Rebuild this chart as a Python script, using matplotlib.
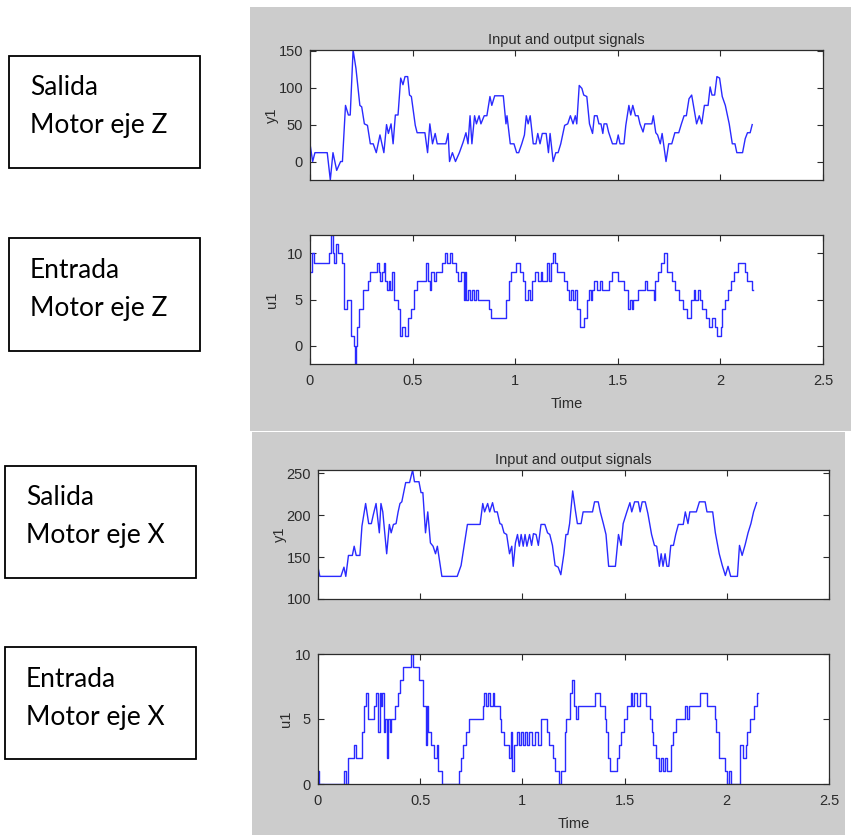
import matplotlib
matplotlib.use("Agg")
import matplotlib.pyplot as plt
from matplotlib.patches import Rectangle

# ---------------- data ----------------
time_ticks = [0, 0.5, 1, 1.5, 2, 2.5]
time_tick_labels = ["0", "0.5", "1", "1.5", "2", "2.5"]

# Z axis motor: output y1 (line vertices: time, value)
z_output = [
    (0.000, 24), (0.013, 0), (0.024, 12), (0.084, 12), (0.099, -25), (0.112, 12), (0.130, -12),
    (0.149, 0), (0.158, 0), (0.173, 76), (0.187, 63), (0.196, 63), (0.210, 151), (0.224, 126),
    (0.243, 76), (0.252, 74), (0.265, 51), (0.280, 49), (0.294, 24), (0.308, 24), (0.323, 12),
    (0.341, 36), (0.360, 12), (0.373, 50), (0.382, 38), (0.395, 51), (0.405, 24), (0.416, 63),
    (0.429, 63), (0.442, 113), (0.453, 104), (0.463, 115), (0.476, 115), (0.485, 90), (0.494, 88),
    (0.513, 49), (0.522, 39), (0.560, 39), (0.573, 12), (0.584, 51), (0.597, 24), (0.610, 38),
    (0.620, 24), (0.662, 24), (0.673, 38), (0.680, 0), (0.694, 12), (0.709, 0), (0.728, 12),
    (0.746, 26), (0.760, 39), (0.770, 24), (0.780, 62), (0.789, 24), (0.802, 62), (0.811, 51),
    (0.824, 62), (0.833, 51), (0.849, 62), (0.862, 62), (0.877, 88), (0.886, 76), (0.900, 89),
    (0.942, 89), (0.955, 51), (0.960, 62), (0.976, 24), (0.994, 24), (1.007, 12), (1.017, 12),
    (1.032, 24), (1.045, 36), (1.054, 62), (1.063, 51), (1.073, 62), (1.088, 24), (1.101, 24),
    (1.110, 38), (1.121, 24), (1.132, 38), (1.151, 38), (1.162, 12), (1.170, 38), (1.185, 0),
    (1.198, 12), (1.209, 12), (1.222, 24), (1.241, 49), (1.256, 51), (1.269, 62), (1.282, 51),
    (1.293, 62), (1.300, 51), (1.312, 103), (1.325, 99), (1.334, 90), (1.349, 88), (1.362, 51),
    (1.377, 38), (1.386, 62), (1.399, 62), (1.408, 51), (1.418, 51), (1.427, 38), (1.433, 51),
    (1.446, 51), (1.455, 40), (1.474, 24), (1.493, 24), (1.502, 36), (1.511, 24), (1.530, 24),
    (1.539, 49), (1.554, 76), (1.563, 63), (1.573, 76), (1.586, 62), (1.599, 62), (1.608, 51),
    (1.623, 40), (1.632, 51), (1.666, 51), (1.673, 62), (1.685, 39), (1.694, 36), (1.707, 24),
    (1.716, 38), (1.735, 0), (1.748, 24), (1.763, 24), (1.778, 39), (1.797, 39), (1.810, 51),
    (1.823, 62), (1.834, 62), (1.847, 85), (1.860, 90), (1.871, 72), (1.884, 51), (1.897, 62),
    (1.909, 51), (1.922, 76), (1.940, 76), (1.950, 101), (1.959, 90), (1.972, 90), (1.983, 115),
    (1.996, 113), (2.009, 88), (2.024, 76), (2.043, 51), (2.058, 24), (2.071, 24), (2.080, 12),
    (2.108, 12), (2.121, 31), (2.132, 39), (2.145, 39), (2.155, 50),
]
z_output_ticks = [0, 50, 100, 150]

# Z axis motor: input u1 (staircase: time of change, new value)
z_input = [
    (0.000, 8), (0.008, 10), (0.020, 9), (0.093, 10), (0.101, 12), (0.111, 10), (0.117, 9),
    (0.125, 11), (0.138, 10), (0.155, 9), (0.168, 4), (0.179, 5), (0.199, 1), (0.212, 0),
    (0.217, -2), (0.223, 0), (0.228, 2), (0.240, 4), (0.260, 6), (0.285, 7), (0.293, 8),
    (0.326, 9), (0.334, 8), (0.342, 7), (0.353, 8), (0.360, 9), (0.366, 7), (0.374, 6),
    (0.383, 7), (0.392, 6), (0.402, 8), (0.407, 5), (0.428, 4), (0.440, 1), (0.448, 2),
    (0.461, 1), (0.480, 3), (0.493, 4), (0.505, 6), (0.521, 7), (0.565, 9), (0.575, 7),
    (0.583, 6), (0.591, 8), (0.602, 7), (0.614, 8), (0.643, 9), (0.660, 10), (0.668, 9),
    (0.680, 10), (0.690, 9), (0.712, 8), (0.723, 7), (0.734, 8), (0.750, 5), (0.755, 8),
    (0.762, 5), (0.770, 6), (0.780, 5), (0.790, 6), (0.800, 5), (0.810, 6), (0.818, 5),
    (0.872, 4), (0.882, 3), (0.957, 5), (0.970, 7), (0.980, 8), (1.002, 9), (1.021, 8),
    (1.036, 7), (1.050, 5), (1.061, 6), (1.073, 5), (1.082, 7), (1.095, 8), (1.110, 7),
    (1.125, 8), (1.132, 7), (1.157, 9), (1.166, 7), (1.175, 9), (1.185, 10), (1.194, 9),
    (1.203, 8), (1.237, 7), (1.252, 6), (1.263, 5), (1.274, 6), (1.282, 5), (1.293, 6),
    (1.300, 4), (1.315, 2), (1.334, 3), (1.349, 5), (1.358, 6), (1.367, 5), (1.375, 6),
    (1.386, 7), (1.399, 6), (1.412, 7), (1.423, 6), (1.455, 7), (1.474, 8), (1.502, 7),
    (1.530, 6), (1.549, 4), (1.558, 5), (1.567, 4), (1.576, 5), (1.599, 6), (1.632, 7),
    (1.642, 6), (1.674, 5), (1.679, 7), (1.698, 8), (1.711, 9), (1.726, 10), (1.741, 8),
    (1.763, 7), (1.778, 6), (1.797, 5), (1.819, 4), (1.838, 3), (1.856, 5), (1.871, 6),
    (1.878, 5), (1.890, 6), (1.899, 5), (1.912, 4), (1.931, 3), (1.946, 2), (1.959, 3),
    (1.972, 2), (1.983, 1), (2.002, 2), (2.009, 4), (2.024, 5), (2.039, 6), (2.052, 7),
    (2.065, 8), (2.084, 9), (2.118, 8), (2.129, 7), (2.155, 6), (2.160, 6),
]
z_input_ticks = [0, 5, 10]

# X axis motor: output y1
x_output = [
    (0.000, 138), (0.009, 127), (0.112, 127), (0.127, 138), (0.136, 127), (0.149, 152),
    (0.168, 152), (0.177, 163), (0.187, 152), (0.205, 152), (0.215, 187), (0.233, 214),
    (0.248, 190), (0.261, 190), (0.270, 200), (0.284, 214), (0.300, 179), (0.308, 214),
    (0.317, 204), (0.336, 154), (0.349, 189), (0.358, 179), (0.369, 189), (0.382, 190),
    (0.392, 204), (0.401, 214), (0.410, 216), (0.429, 239), (0.448, 239), (0.463, 254),
    (0.472, 240), (0.494, 240), (0.504, 227), (0.513, 227), (0.526, 179), (0.537, 204),
    (0.550, 167), (0.563, 163), (0.575, 154), (0.584, 163), (0.606, 127), (0.681, 127),
    (0.700, 140), (0.731, 189), (0.793, 189), (0.806, 214), (0.815, 204), (0.830, 214),
    (0.840, 204), (0.854, 215), (0.864, 204), (0.877, 204), (0.890, 190), (0.899, 189),
    (0.910, 179), (0.923, 177), (0.937, 154), (0.948, 163), (0.955, 139), (0.966, 167),
    (0.976, 177), (0.985, 163), (0.994, 177), (1.004, 163), (1.013, 177), (1.022, 163),
    (1.035, 177), (1.045, 164), (1.054, 178), (1.067, 177), (1.078, 164), (1.091, 189),
    (1.110, 189), (1.123, 179), (1.134, 177), (1.147, 164), (1.160, 140), (1.175, 138),
    (1.188, 129), (1.203, 154), (1.213, 177), (1.222, 177), (1.231, 190), (1.246, 229),
    (1.259, 206), (1.269, 190), (1.287, 190), (1.297, 204), (1.343, 204), (1.353, 216),
    (1.371, 216), (1.381, 204), (1.396, 190), (1.409, 177), (1.422, 139), (1.455, 139),
    (1.470, 177), (1.483, 164), (1.493, 190), (1.511, 204), (1.526, 215), (1.535, 204),
    (1.549, 216), (1.567, 216), (1.576, 204), (1.586, 216), (1.601, 216), (1.614, 202),
    (1.632, 177), (1.646, 164), (1.657, 163), (1.670, 139), (1.679, 154), (1.688, 139),
    (1.698, 154), (1.707, 139), (1.716, 139), (1.726, 164), (1.739, 164), (1.750, 177),
    (1.763, 189), (1.787, 189), (1.797, 204), (1.810, 190), (1.819, 204), (1.851, 204),
    (1.866, 216), (1.894, 216), (1.903, 204), (1.931, 204), (1.944, 179), (1.963, 154),
    (1.978, 140), (1.993, 128), (2.006, 139), (2.019, 127), (2.052, 127), (2.062, 164),
    (2.075, 152), (2.090, 165), (2.104, 179), (2.118, 190), (2.131, 204), (2.146, 215),
]
x_output_ticks = [100, 150, 200, 250]
x_output_floor = 100

# X axis motor: input u1
x_input = [
    (0.000, 1), (0.006, 0), (0.125, 1), (0.138, 0), (0.146, 2), (0.176, 3), (0.184, 2),
    (0.217, 4), (0.225, 6), (0.234, 7), (0.243, 5), (0.275, 6), (0.283, 7), (0.294, 4),
    (0.303, 7), (0.309, 6), (0.314, 7), (0.322, 4), (0.330, 5), (0.338, 2), (0.343, 5),
    (0.351, 4), (0.359, 5), (0.375, 6), (0.392, 7), (0.403, 8), (0.416, 9), (0.456, 10),
    (0.464, 9), (0.494, 8), (0.513, 6), (0.527, 3), (0.532, 6), (0.540, 4), (0.553, 3),
    (0.566, 2), (0.581, 3), (0.587, 1), (0.607, 0), (0.692, 1), (0.701, 2), (0.710, 3),
    (0.725, 4), (0.738, 5), (0.807, 6), (0.813, 7), (0.822, 6), (0.832, 7), (0.841, 6),
    (0.854, 7), (0.863, 6), (0.888, 5), (0.897, 4), (0.912, 3), (0.935, 2), (0.945, 4),
    (0.950, 1), (0.957, 3), (0.972, 4), (0.981, 3), (0.991, 4), (1.005, 3), (1.013, 4),
    (1.024, 3), (1.034, 4), (1.047, 3), (1.062, 4), (1.078, 3), (1.093, 5), (1.121, 4),
    (1.131, 3), (1.150, 2), (1.159, 1), (1.178, 0), (1.190, 1), (1.206, 4), (1.215, 5),
    (1.234, 7), (1.243, 8), (1.252, 6), (1.262, 5), (1.271, 6), (1.355, 7), (1.379, 6),
    (1.402, 5), (1.411, 4), (1.420, 2), (1.430, 1), (1.462, 2), (1.473, 3), (1.484, 4),
    (1.495, 5), (1.514, 6), (1.529, 7), (1.536, 6), (1.548, 7), (1.561, 6), (1.574, 7),
    (1.604, 6), (1.626, 5), (1.632, 4), (1.640, 3), (1.654, 2), (1.667, 1), (1.678, 2),
    (1.686, 1), (1.697, 2), (1.706, 1), (1.729, 3), (1.738, 4), (1.753, 5), (1.794, 6),
    (1.804, 5), (1.813, 6), (1.869, 7), (1.903, 6), (1.940, 5), (1.948, 4), (1.963, 2),
    (1.991, 1), (2.000, 0), (2.009, 1), (2.019, 0), (2.065, 3), (2.078, 2), (2.093, 3),
    (2.100, 4), (2.112, 5), (2.131, 6), (2.150, 7), (2.155, 7),
]
x_input_ticks = [0, 5, 10]

box_labels = [
    ("Salida", "Motor eje Z"),
    ("Entrada", "Motor eje Z"),
    ("Salida", "Motor eje X"),
    ("Entrada", "Motor eje X"),
]
title_text = "Input and output signals"

# ---------------- layout ----------------
W, H = 851, 835
fig = plt.figure(figsize=(W / 100, H / 100), dpi=100)
fig.patch.set_facecolor("white")


def fbox(x0, y0, x1, y1):
    return [x0 / W, 1 - y1 / H, (x1 - x0) / W, (y1 - y0) / H]


GREY = "#cccccc"
DARK = "#2b2b2b"
BLUE = "#2a2aff"
FONT = "Liberation Sans"
FS = 10.5

# grey figure panels
for (x0, y0, x1, y1) in [(250, 7, 851, 431), (252, 432, 845, 835)]:
    l, b, w, h = fbox(x0, y0, x1, y1)
    fig.add_artist(Rectangle((l, b), w, h, transform=fig.transFigure,
                             facecolor=GREY, edgecolor="none", zorder=0))

# label boxes on the left
boxes = [(9, 56, 200, 168), (9, 238, 200, 351), (5, 466, 196, 578), (5, 647, 196, 759)]
text_x = [30, 30, 26, 26]
baselines = [(95, 133), (278, 316), (505, 543), (687, 725)]
for (x0, y0, x1, y1), tx, (b1, b2), (t1, t2) in zip(boxes, text_x, baselines, box_labels):
    l, b, w, h = fbox(x0, y0, x1, y1)
    fig.add_artist(Rectangle((l, b), w, h, transform=fig.transFigure,
                             facecolor="white", edgecolor="black", lw=1.3, zorder=1))
    fig.text(tx / W, 1 - b1 / H, t1, fontsize=19, family="Lato", va="baseline",
             ha="left", color="black")
    fig.text(tx / W, 1 - b2 / H, t2, fontsize=19, family="Lato", va="baseline",
             ha="left", color="black")

axes_boxes = [(310, 50, 823, 180), (310, 235, 823, 364), (318, 470, 829, 599), (318, 654, 829, 784)]
axs = [fig.add_axes(fbox(*bx)) for bx in axes_boxes]


def style(ax, yticks, show_x):
    ax.set_facecolor("white")
    ax.set_xlim(0, 2.5)
    ax.set_xticks(time_ticks)
    if show_x:
        ax.set_xticklabels(time_tick_labels)
        ax.set_xlabel("Time", fontsize=FS, family=FONT, color=DARK, labelpad=7)
    else:
        ax.set_xticklabels([])
    ax.set_yticks(yticks)
    ax.tick_params(direction="in", length=4, width=0.8, top=True, right=True,
                   labelsize=FS, colors=DARK, pad=5)
    ax.tick_params(axis="x", pad=7)
    for lab in ax.get_xticklabels() + ax.get_yticklabels():
        lab.set_family(FONT)
    for s in ax.spines.values():
        s.set_color(DARK)
        s.set_linewidth(0.9)


def draw_line(ax, pairs):
    t = [p[0] for p in pairs]
    v = [p[1] for p in pairs]
    ax.plot(t, v, color=BLUE, lw=1.0)
    return v


def draw_steps(ax, pairs):
    t = [p[0] for p in pairs]
    v = [p[1] for p in pairs]
    ax.step(t, v, where="post", color=BLUE, lw=1.0)
    return v

# Z motor output
v = draw_line(axs[0], z_output)
axs[0].set_ylim(min(v), max(v))
style(axs[0], z_output_ticks, False)
axs[0].set_title(title_text, fontsize=FS, family=FONT, color=DARK, pad=4)

# Z motor input
v = draw_steps(axs[1], z_input)
axs[1].set_ylim(min(v), max(v))
style(axs[1], z_input_ticks, True)

# X motor output
v = draw_line(axs[2], x_output)
axs[2].set_ylim(x_output_floor, max(v))
style(axs[2], x_output_ticks, False)
axs[2].set_title(title_text, fontsize=FS, family=FONT, color=DARK, pad=4)

# X motor input
v = draw_steps(axs[3], x_input)
axs[3].set_ylim(min(v), max(v))
style(axs[3], x_input_ticks, True)

# y labels placed at the measured horizontal positions (figure pixels)
for ax, bx, name, xpix in [(axs[0], axes_boxes[0], "y1", 272), (axs[1], axes_boxes[1], "u1", 272),
                           (axs[2], axes_boxes[2], "y1", 280), (axs[3], axes_boxes[3], "u1", 286)]:
    ax.set_ylabel(name, fontsize=FS, family=FONT, color=DARK, va="center")
    ax.yaxis.set_label_coords((xpix - bx[0]) / (bx[2] - bx[0]), 0.5)

fig.savefig("out.png", dpi=100, facecolor="white")
